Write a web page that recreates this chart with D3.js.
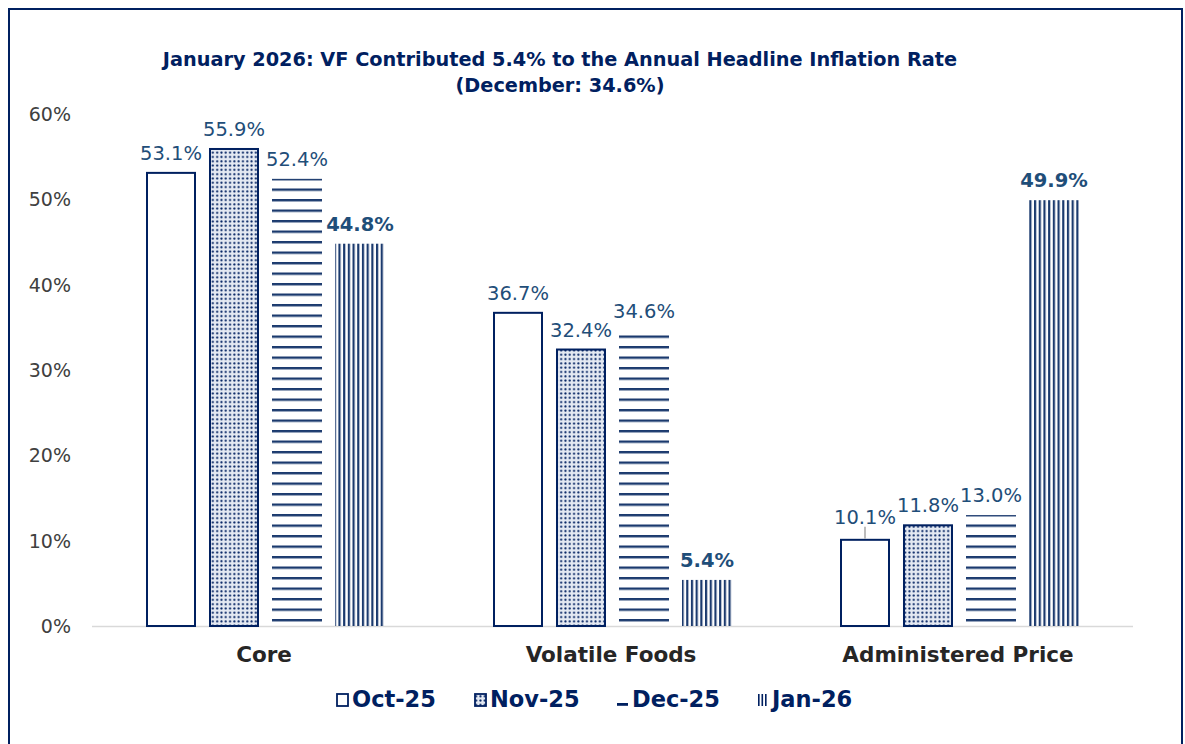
<!DOCTYPE html>
<html>
<head>
<meta charset="utf-8">
<script src="https://cdn.jsdelivr.net/npm/d3@7"></script>
<style>
  body { margin: 0; background: #fff; }
  svg { display: block; font-family: "DejaVu Sans", Verdana, sans-serif; }
</style>
</head>
<body>
<svg width="1185" height="744"></svg>
<script>
// data
var categories = ["Core", "Volatile Foods", "Administered Price"];
var series = ["Oct-25", "Nov-25", "Dec-25", "Jan-26"];
var oct25 = [53.1, 36.7, 10.1];
var nov25 = [55.9, 32.4, 11.8];
var dec25 = [52.4, 34.6, 13.0];
var jan26 = [44.8, 5.4, 49.9];
var yTicks = [0, 10, 20, 30, 40, 50, 60];
var titleLines = ["January 2026: VF Contributed 5.4% to the Annual Headline Inflation Rate",
                  "(December: 34.6%)"];

var values = [oct25, nov25, dec25, jan26];
var navy = "#002060", labelBlue = "#1f4e79";

var svg = d3.select("svg"),
    width = +svg.attr("width"),
    height = +svg.attr("height");

var x0 = 92, x1 = 1133, yTop = 114, yBase = 626;

var x = d3.scaleBand().domain(categories).range([x0, x1]);
var xs = d3.scaleBand().domain(series).range([-126, 126])
    .paddingInner(0.2063).paddingOuter(0.1032);
var y = d3.scaleLinear().domain([0, 60]).range([yBase, yTop]);

// patterns
var defs = svg.append("defs");

var dots = defs.append("pattern").attr("id", "p-dots")
    .attr("patternUnits", "userSpaceOnUse").attr("width", 4.3).attr("height", 4.3);
dots.append("rect").attr("width", 4.3).attr("height", 4.3).attr("fill", "#e4e9f2");
dots.append("circle").attr("cx", 2.15).attr("cy", 2.15).attr("r", 1.05).attr("fill", navy);

var hl = defs.append("pattern").attr("id", "p-hlines")
    .attr("patternUnits", "userSpaceOnUse").attr("width", 10).attr("height", 10.5)
    .attr("y", (yBase - 7) % 10.5);
hl.append("rect").attr("y", 0).attr("width", 10).attr("height", 2.4).attr("fill", "#1b3a6e");

var vl = defs.append("pattern").attr("id", "p-vlines")
    .attr("patternUnits", "userSpaceOnUse").attr("width", 4.7).attr("height", 10);
vl.append("rect").attr("x", 0).attr("width", 2.2).attr("height", 10).attr("fill", "#1b3a6e");

var fills = ["#ffffff", "url(#p-dots)", "url(#p-hlines)", "url(#p-vlines)"];
var strokes = [navy, navy, "none", "none"];

// outer border
svg.append("rect").attr("x", 9).attr("y", 9).attr("width", 1173).attr("height", 800)
    .attr("fill", "none").attr("stroke", navy).attr("stroke-width", 2);

// title
svg.append("text").attr("x", 560).attr("y", 66).attr("text-anchor", "middle")
    .attr("fill", navy).attr("font-weight", "bold").attr("font-size", 19.3)
  .selectAll("tspan").data(titleLines).enter().append("tspan")
    .attr("x", 560).attr("dy", function(d, i) { return i ? 26 : 0; })
    .text(function(d) { return d; });

// y axis labels
svg.append("g").selectAll("text").data(yTicks).enter().append("text")
    .attr("x", 71).attr("y", function(d) { return y(d) + 7; })
    .attr("text-anchor", "end").attr("font-size", 19).attr("fill", "#404040")
    .text(function(d) { return d + "%"; });

// axis line
svg.append("line").attr("x1", x0).attr("x2", x1).attr("y1", yBase + 0.5).attr("y2", yBase + 0.5)
    .attr("stroke", "#d9d9d9").attr("stroke-width", 1.5);

// bars
var rows = [];
series.forEach(function(s, si) {
  categories.forEach(function(c, ci) {
    rows.push({ s: s, si: si, c: c, v: values[si][ci] });
  });
});

var bx = function(d) { return x(d.c) + x.bandwidth() / 2 + xs(d.s); };

svg.append("g").selectAll("rect").data(rows).enter().append("rect")
    .attr("x", function(d) { return bx(d) + (strokes[d.si] === "none" ? 0 : 1); })
    .attr("y", function(d) { return y(d.v); })
    .attr("width", function(d) { return xs.bandwidth() - (strokes[d.si] === "none" ? 0 : 2); })
    .attr("height", function(d) { return yBase - y(d.v); })
    .attr("fill", function(d) { return fills[d.si]; })
    .attr("stroke", function(d) { return strokes[d.si]; })
    .attr("stroke-width", 2);

// leader line for Administered Price Oct-25
var lead = rows.filter(function(d) { return d.c === "Administered Price" && d.si === 0; })[0];
svg.append("line")
    .attr("x1", bx(lead) + xs.bandwidth() / 2).attr("x2", bx(lead) + xs.bandwidth() / 2)
    .attr("y1", y(lead.v) - 13).attr("y2", y(lead.v) - 1)
    .attr("stroke", "#a6a6a6").attr("stroke-width", 1.5);

// value labels
svg.append("g").selectAll("text").data(rows).enter().append("text")
    .attr("x", function(d) { return bx(d) + xs.bandwidth() / 2; })
    .attr("y", function(d) { return y(d.v) - (d === lead ? 16 : 13); })
    .attr("text-anchor", "middle").attr("font-size", 19.5)
    .attr("font-weight", function(d) { return d.si === 3 ? "bold" : "normal"; })
    .attr("fill", labelBlue)
    .text(function(d) { return d.v.toFixed(1) + "%"; });

// category labels
svg.append("g").selectAll("text").data(categories).enter().append("text")
    .attr("x", function(d) { return x(d) + x.bandwidth() / 2 - 1.5; })
    .attr("y", 662).attr("text-anchor", "middle")
    .attr("font-size", 21.5).attr("font-weight", "bold").attr("fill", "#262626")
    .text(function(d) { return d; });

// legend
var legX = [336, 474, 616, 756];
var leg = svg.append("g").selectAll("g").data(series).enter().append("g")
    .attr("transform", function(d, i) { return "translate(" + legX[i] + ",707)"; });

leg.each(function(d, i) {
  var g = d3.select(this);
  if (i === 0) {
    g.append("rect").attr("x", 1).attr("y", -13).attr("width", 11).attr("height", 12)
      .attr("fill", "#fff").attr("stroke", navy).attr("stroke-width", 1.8);
  } else if (i === 1) {
    g.append("rect").attr("x", 1).attr("y", -13).attr("width", 11).attr("height", 12)
      .attr("fill", "url(#p-dots)").attr("stroke", navy).attr("stroke-width", 1.8);
  } else if (i === 2) {
    g.append("rect").attr("x", 1).attr("y", -4).attr("width", 11).attr("height", 2.8)
      .attr("fill", navy);
  } else {
    [2, 5.5, 9].forEach(function(px) {
      g.append("rect").attr("x", px).attr("y", -13).attr("width", 1.6).attr("height", 12)
        .attr("fill", navy);
    });
  }
  g.append("text").attr("x", 16).attr("y", 0).attr("font-size", 22.5)
    .attr("font-weight", "bold").attr("fill", navy).text(d);
});
</script>
</body>
</html>
